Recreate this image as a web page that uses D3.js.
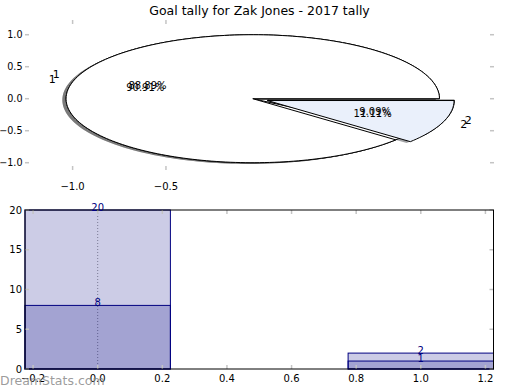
<!DOCTYPE html>
<html><head><meta charset="utf-8">
<script src="https://cdn.jsdelivr.net/npm/d3@7"></script>
<style>body{margin:0;background:#fff}svg{display:block;font-family:"DejaVu Sans",sans-serif}</style>
</head><body><svg id="c" width="520" height="390"></svg>
<script>
// ---- data ----
const chartTitle = "Goal tally for Zak Jones - 2017 tally";
const categories = ["1", "2"];
const goalsTotal = [20, 2];   // first pie, light bars
const goalsSub = [8, 1];      // second pie, dark bars
const barPositions = [0, 1];
const explodes = [0, 0.083];
const wedgeColors = ["#ffffff", "#eaf0fb"];
const pieXTicks = [-1.0, -0.5];
const pieYTicks = [1.0, 0.5, 0.0, -0.5, -1.0];
const barXTicks = [-0.2, 0.0, 0.2, 0.4, 0.6, 0.8, 1.0, 1.2];
const barYTicks = [0, 5, 10, 15, 20];
const watermark = "DreamStats.com";

// ---- layout ----
const svg = d3.select("#c");
const pTop = {l: 25, r: 494, t: 20, b: 170};
const pBot = {l: 25, r: 493.5, t: 210, b: 369};
const xT = d3.scaleLinear().domain([-1.255, 1.257]).range([pTop.l, pTop.r]);
const yT = d3.scaleLinear().domain([-1.114, 1.23]).range([pTop.b, pTop.t]);
const xB = d3.scaleLinear().domain([-0.225, 1.225]).range([pBot.l, pBot.r]);
const yB = d3.scaleLinear().domain([0, 20]).range([pBot.b, pBot.t]);
const pieCenter = [-0.035, 0];
const tickCol = "#c4c4c4";
const fmt = d => (d < 0 ? "\u2212" : "") + Math.abs(d).toFixed(1);

// title
svg.append("text").attr("x", (pTop.l + pTop.r) / 2).attr("y", 15)
  .attr("text-anchor", "middle").attr("font-size", 12.5).attr("fill", "#000").text(chartTitle);

// ---- pie panel ----
const line = d3.line().x(d => xT(d[0])).y(d => yT(d[1]));
function wedgePts(cx, cy, a1, a2) {
  const n = Math.max(2, Math.ceil(Math.abs(a2 - a1) / 1.5));
  const pts = [[cx, cy]];
  for (let i = 0; i <= n; i++) {
    const a = (a1 + (a2 - a1) * i / n) * Math.PI / 180;
    pts.push([cx + Math.cos(a), cy + Math.sin(a)]);
  }
  return pts;
}
const pieGen = d3.pie().sort(null).startAngle(0).endAngle(2 * Math.PI);
function pieWedges(vals) {
  const tot = d3.sum(vals);
  return pieGen(vals).map((p, i) => {
    const a1 = p.startAngle * 180 / Math.PI, a2 = p.endAngle * 180 / Math.PI;
    const mid = (a1 + a2) / 2 * Math.PI / 180;
    const cx = pieCenter[0] + explodes[i] * Math.cos(mid);
    const cy = pieCenter[1] + explodes[i] * Math.sin(mid);
    return {i, a1, a2, mid, cx, cy, pct: (vals[i] / tot * 100).toFixed(2) + "%"};
  });
}
const pies = [pieWedges(goalsTotal), pieWedges(goalsSub)];
const gPie = svg.append("g");
function shadowColor(c) { const r = d3.rgb(c); return d3.rgb(r.r * 0.3, r.g * 0.3, r.b * 0.3).toString(); }
// shadows
pies.forEach(ws => ws.forEach(w => {
  gPie.append("path").attr("d", line(wedgePts(w.cx - 0.02, w.cy - 0.02, w.a1, w.a2)) + "Z")
    .attr("fill", shadowColor(wedgeColors[w.i])).attr("fill-opacity", 0.5);
}));
// wedges
pies.forEach(ws => ws.forEach(w => {
  gPie.append("path").attr("d", line(wedgePts(w.cx, w.cy, w.a1, w.a2)) + "Z")
    .attr("fill", wedgeColors[w.i]).attr("stroke", "#000").attr("stroke-width", 1);
}));
// labels
pies.forEach(ws => ws.forEach(w => {
  const lx = w.cx + 1.1 * Math.cos(w.mid), ly = w.cy + 1.1 * Math.sin(w.mid);
  gPie.append("text").attr("x", xT(lx)).attr("y", yT(ly)).attr("dy", "0.35em")
    .attr("text-anchor", lx < pieCenter[0] ? "end" : "start").attr("font-size", 11).text(categories[w.i]);
  const px = w.cx + 0.6 * Math.cos(w.mid), py = w.cy + 0.6 * Math.sin(w.mid);
  gPie.append("text").attr("x", xT(px)).attr("y", yT(py)).attr("dy", "0.35em")
    .attr("text-anchor", "middle").attr("font-size", 10).text(w.pct);
}));
// pie ticks
const gT = svg.append("g").attr("stroke", tickCol).attr("stroke-width", 1.5);
pieXTicks.forEach(t => {
  gT.append("line").attr("x1", xT(t)).attr("x2", xT(t)).attr("y1", pTop.t).attr("y2", pTop.t + 4);
  gT.append("line").attr("x1", xT(t)).attr("x2", xT(t)).attr("y1", pTop.b - 4).attr("y2", pTop.b);
});
pieYTicks.forEach(t => {
  gT.append("line").attr("x1", pTop.l).attr("x2", pTop.l + 4).attr("y1", yT(t)).attr("y2", yT(t));
  gT.append("line").attr("x1", pTop.r - 4).attr("x2", pTop.r).attr("y1", yT(t)).attr("y2", yT(t));
});
pieXTicks.forEach(t => svg.append("text").attr("x", xT(t)).attr("y", pTop.b + 20)
  .attr("text-anchor", "middle").attr("font-size", 10).text(fmt(t)));
pieYTicks.forEach(t => svg.append("text").attr("x", pTop.l - 2.5).attr("y", yT(t)).attr("dy", "0.35em")
  .attr("text-anchor", "end").attr("font-size", 9.6).text(fmt(t)));

// ---- bar panel ----
const gB = svg.append("g");
gB.append("line").attr("x1", xB(0)).attr("x2", xB(0)).attr("y1", pBot.t).attr("y2", pBot.b)
  .attr("stroke", "#999").attr("stroke-width", 1).attr("stroke-dasharray", "1,2");
const bw = 0.45;
[goalsTotal, goalsSub].forEach(vals => {
  vals.forEach((v, i) => {
    gB.append("rect").attr("x", xB(barPositions[i] - bw / 2)).attr("y", yB(v))
      .attr("width", xB(barPositions[i] + bw / 2) - xB(barPositions[i] - bw / 2))
      .attr("height", yB(0) - yB(v))
      .attr("fill", "navy").attr("fill-opacity", 0.2).attr("stroke", "navy").attr("stroke-width", 1);
  });
});
const gBT = svg.append("g").attr("stroke", tickCol).attr("stroke-width", 1.5);
barXTicks.forEach(t => {
  gBT.append("line").attr("x1", xB(t)).attr("x2", xB(t)).attr("y1", pBot.t).attr("y2", pBot.t + 4);
  gBT.append("line").attr("x1", xB(t)).attr("x2", xB(t)).attr("y1", pBot.b - 4).attr("y2", pBot.b);
});
barYTicks.forEach(t => {
  gBT.append("line").attr("x1", pBot.l).attr("x2", pBot.l + 4).attr("y1", yB(t)).attr("y2", yB(t));
  gBT.append("line").attr("x1", pBot.r - 4).attr("x2", pBot.r).attr("y1", yB(t)).attr("y2", yB(t));
});
svg.append("rect").attr("x", pBot.l).attr("y", pBot.t).attr("width", pBot.r - pBot.l).attr("height", pBot.b - pBot.t)
  .attr("fill", "none").attr("stroke", "#000").attr("stroke-width", 1);
[goalsTotal, goalsSub].forEach(vals => vals.forEach((v, i) => {
  svg.append("text").attr("x", xB(barPositions[i])).attr("y", yB(v) + 1)
    .attr("text-anchor", "middle").attr("font-size", 10).attr("fill", "navy").text(v);
}));
barXTicks.forEach(t => svg.append("text").attr("x", xB(t)).attr("y", pBot.b + 13)
  .attr("text-anchor", "middle").attr("font-size", 10).text(fmt(t)));
barYTicks.forEach(t => svg.append("text").attr("x", pBot.l - 3).attr("y", yB(t)).attr("dy", "0.35em")
  .attr("text-anchor", "end").attr("font-size", 10).text(t));

// watermark
svg.append("text").attr("x", 0).attr("y", 385).attr("font-size", 12.5)
  .attr("fill", "#8a8a8a").attr("fill-opacity", 0.85).text(watermark);
</script></body></html>
